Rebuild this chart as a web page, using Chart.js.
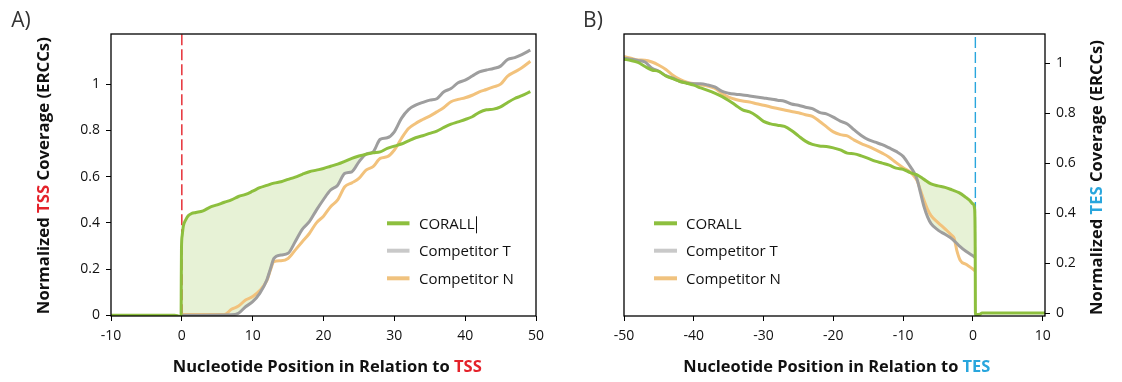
<!DOCTYPE html>
<html>
<head>
<meta charset="utf-8">
<script src="https://cdn.jsdelivr.net/npm/chart.js@4.4.1/dist/chart.umd.min.js"></script>
<style>
  html, body { margin: 0; padding: 0; background: #fff; }
  #wrap { position: relative; width: 1122px; height: 382px; overflow: hidden; }
  .panel { position: absolute; top: 0; width: 561px; height: 382px; }
</style>
</head>
<body>
<div id="wrap">
  <div class="panel" style="left:0"><canvas id="chartA" width="561" height="382"></canvas></div>
  <div class="panel" style="left:561px"><canvas id="chartB" width="561" height="382"></canvas></div>
</div>
<script>
// ---------------- DATA ----------------
const seriesNames = ['CORALL', 'Competitor T', 'Competitor N'];
const coverageTicks = [0, 0.2, 0.4, 0.6, 0.8, 1];
const tssTicksX = [-10, 0, 10, 20, 30, 40, 50];
const tesTicksX = [-50, -40, -30, -20, -10, 0, 10];

// Panel A: TSS
const tssCorallX = [-10,-1,-0.5,-0.15,-0.1,-0.08,-0.05,0.05,0.2,0.55,0.9,1.4,2,3,4,5,6,7,8,9,10,11,12,13,14,15,16,17,18,19,20,21,22,23,24,25,26,27,28,29,30,31,32,33,34,35,36,37,38,39,40,41,42,43,44,45,46,47,48,49.2];
const tssCorallY = [0,0,-0.003,-0.006,0,0.15,0.29,0.345,0.384,0.413,0.431,0.441,0.445,0.452,0.468,0.478,0.489,0.499,0.514,0.523,0.537,0.552,0.562,0.572,0.578,0.588,0.598,0.61,0.621,0.628,0.635,0.645,0.654,0.666,0.679,0.689,0.697,0.703,0.707,0.722,0.732,0.741,0.755,0.768,0.777,0.787,0.797,0.813,0.827,0.837,0.847,0.859,0.878,0.889,0.892,0.902,0.921,0.938,0.95,0.968];

const tssCompTX = [0,7,8,9,10,11,12,12.5,13,14,15,16,17,18,19,20,21,22,23,24,25,26,27,28,29,30,31,32,33,34,35,36,37,38,39,40,41,42,43,44,45,46,47,48,49.2];
const tssCompTY = [0,0.002,0.009,0.037,0.059,0.095,0.153,0.2,0.246,0.261,0.268,0.318,0.372,0.405,0.455,0.501,0.542,0.563,0.614,0.621,0.664,0.697,0.707,0.761,0.768,0.794,0.852,0.89,0.909,0.921,0.931,0.937,0.967,0.981,1.006,1.017,1.035,1.053,1.061,1.068,1.078,1.107,1.115,1.128,1.147];

const tssCompNX = [0,6,7,8,9,10,11,12,12.5,13,14,15,16,17,18,19,20,21,22,23,24,25,26,27,28,29,30,31,32,33,34,35,36,37,38,39,40,41,42,43,44,45,46,47,48,49.2];
const tssCompNY = [0.003,0.003,0.026,0.04,0.066,0.081,0.107,0.15,0.195,0.232,0.236,0.246,0.282,0.318,0.354,0.4,0.429,0.47,0.499,0.556,0.573,0.592,0.628,0.643,0.679,0.686,0.715,0.765,0.808,0.83,0.847,0.862,0.88,0.899,0.924,0.934,0.941,0.952,0.967,0.977,0.988,1.0,1.035,1.053,1.071,1.099];

const tssMarkerX = [0, 0];
const tssMarkerY = [0, 1.22];

// Panel B: TES
const tesCorallX = [-50,-49,-48,-47,-46,-45,-44,-43,-42,-41,-40,-39,-38,-37,-36,-35,-34,-33,-32,-31,-30,-29,-28,-27,-26,-25,-24,-23,-22,-21,-20,-19,-18,-17,-16,-15,-14,-13,-12,-11,-10,-9,-8.5,-8,-7,-6,-5,-4,-3,-2,-1,-0.5,0,0.25,0.33,0.36,1,1.3,10.33];
const tesCorallY = [1.016,1.011,1.003,0.987,0.973,0.967,0.949,0.938,0.927,0.92,0.912,0.901,0.891,0.88,0.867,0.851,0.832,0.813,0.805,0.789,0.767,0.757,0.752,0.747,0.731,0.709,0.688,0.675,0.669,0.667,0.661,0.653,0.64,0.637,0.629,0.619,0.608,0.6,0.592,0.58,0.575,0.562,0.557,0.553,0.535,0.517,0.509,0.503,0.493,0.482,0.463,0.452,0.437,0.415,0.25,-0.006,-0.005,0,0];

const tesCompTX = [-50,-49,-48,-47,-46,-45,-44,-43,-42,-41,-40,-39,-38,-37,-36,-35,-34,-33,-32,-31,-30,-29,-28,-27,-26,-25,-24,-23,-22,-21,-20,-19,-18,-17,-16,-15,-14,-13,-12,-11,-10,-9,-8.5,-8,-7.5,-7,-6.5,-6,-5,-4,-3,-2,-1,0,0.33];
const tesCompTY = [1.02,1.016,1.011,1.005,0.98,0.968,0.95,0.94,0.928,0.921,0.918,0.918,0.913,0.905,0.888,0.88,0.876,0.873,0.869,0.865,0.861,0.857,0.852,0.848,0.837,0.832,0.824,0.818,0.803,0.797,0.784,0.768,0.757,0.733,0.711,0.694,0.684,0.674,0.661,0.647,0.627,0.587,0.566,0.535,0.48,0.425,0.385,0.358,0.332,0.315,0.297,0.27,0.247,0.229,0.222];

const tesCompNX = [-50,-49,-48,-47,-46,-45,-44,-43,-42,-41,-40,-39,-38,-37,-36,-35,-34,-33,-32,-31,-30,-29,-28,-27,-26,-25,-24,-23,-22,-21,-20,-19,-18,-17,-16,-15,-14,-13,-12,-11,-10,-9,-8.5,-8,-7.5,-7,-6.5,-6,-5,-4,-3,-2.7,-2.3,-1.8,-1,0,0.33];
const tesCompNY = [1.027,1.02,1.013,1.012,1.005,0.992,0.975,0.952,0.935,0.924,0.918,0.914,0.909,0.9,0.88,0.864,0.855,0.849,0.845,0.838,0.832,0.825,0.819,0.813,0.807,0.802,0.794,0.787,0.768,0.746,0.725,0.714,0.709,0.692,0.678,0.667,0.654,0.64,0.624,0.602,0.582,0.565,0.55,0.53,0.49,0.45,0.415,0.39,0.362,0.337,0.31,0.3,0.25,0.21,0.195,0.176,0.168];

const tesMarkerX = [0.35, 0.35];
const tesMarkerY = [-0.02, 1.13];

// ---------------- STYLE ----------------
const FONT = '"Open Sans", "DejaVu Sans", sans-serif';
const GREEN = '#8dbf3e', GRAY = '#9e9e9e', ORANGE = '#f2c27c';
const LEGEND_COLORS = ['#8dbf3e', '#c9c9c9', '#f0c27e'];
const RED = '#e4222a', BLUE = '#29a6dd';
const FILL = 'rgba(141,192,63,0.21)';
const TEXT = '#111';

function pts(xs, ys) { return xs.map((x, i) => ({ x: x, y: ys[i] })); }

function series(i, xs, ys, color, extra) {
  return Object.assign({
    label: seriesNames[i], data: pts(xs, ys),
    borderColor: color, backgroundColor: color, borderWidth: 3,
    pointRadius: 0, pointHoverRadius: 0, cubicInterpolationMode: 'monotone',
    fill: false, legendColor: LEGEND_COLORS[i]
  }, extra || {});
}

function marker(xs, ys, color) {
  return { label: '', data: pts(xs, ys), borderColor: color, borderWidth: 1.4,
    borderDash: [11, 4], pointRadius: 0, fill: false, tension: 0 };
}

function drawRich(ctx, segs, x, y, font, width, rot) {
  ctx.save();
  ctx.font = font;
  const ws = segs.map(s => ctx.measureText(s[0]).width);
  const total = ws.reduce((a, b) => a + b, 0);
  ctx.translate(x, y);
  if (rot) ctx.rotate(rot);
  if (width) ctx.scale(width / total, 1);
  ctx.textAlign = 'left';
  ctx.textBaseline = 'alphabetic';
  let cx = -total / 2;
  segs.forEach((s, i) => { ctx.fillStyle = s[1]; ctx.fillText(s[0], cx, 0); cx += ws[i]; });
  ctx.restore();
}

const decorPlugin = {
  id: 'decor',
  afterDatasetsDraw(chart, args, o) {
    const ctx = chart.ctx, a = chart.chartArea;
    ctx.save();
    ctx.strokeStyle = '#000';
    ctx.lineWidth = 1.3;
    ctx.strokeRect(a.left, a.top, a.right - a.left, a.bottom - a.top);
    ctx.restore();
    // legend
    ctx.save();
    ctx.font = '15px ' + FONT;
    ctx.textBaseline = 'middle';
    ctx.textAlign = 'left';
    let k = 0;
    chart.data.datasets.forEach(ds => {
      if (!ds.label) return;
      const y = o.legend.rows[k];
      ctx.strokeStyle = ds.legendColor;
      ctx.lineWidth = 4;
      ctx.beginPath();
      ctx.moveTo(o.legend.x0, y); ctx.lineTo(o.legend.x1, y);
      ctx.stroke();
      ctx.fillStyle = TEXT;
      ctx.fillText(ds.label, o.legend.tx, y + 1);
      if (k === 0 && o.legend.caret) {
        const w = ctx.measureText(ds.label).width;
        ctx.fillRect(Math.round(o.legend.tx + w + 1), y - 7, 1, 17);
      }
      k++;
    });
    ctx.restore();
  },
  afterDraw(chart, args, o) {
    const ctx = chart.ctx;
    (o.titles || []).forEach(t => drawRich(ctx, t.segs, t.x, t.y, t.font, t.width, t.rot));
  }
};

function makeChart(id, cfg) {
  const tickFont = { family: FONT, size: 14 };
  return new Chart(document.getElementById(id), {
    type: 'line',
    data: { datasets: cfg.datasets },
    plugins: [decorPlugin],
    options: {
      responsive: false, animation: false, devicePixelRatio: 1,
      layout: { padding: cfg.padding },
      interaction: { mode: null },
      plugins: {
        legend: { display: false }, tooltip: { enabled: false },
        filler: { drawTime: 'beforeDatasetsDraw' },
        decor: cfg.decor
      },
      scales: {
        x: {
          type: 'linear', min: cfg.xMin, max: cfg.xMax,
          afterBuildTicks: s => { s.ticks = cfg.xTicks.map(v => ({ value: v })); },
          afterFit: s => { s.height = 66; },
          grid: { drawOnChartArea: false, drawTicks: true, tickLength: 5, color: '#000', lineWidth: 1 },
          border: { display: false },
          ticks: { font: tickFont, color: TEXT, padding: 7, autoSkip: false, maxRotation: 0,
                   callback: v => String(v) }
        },
        y: {
          type: 'linear', position: cfg.yPos, min: cfg.yMin, max: cfg.yMax,
          afterBuildTicks: s => { s.ticks = coverageTicks.map(v => ({ value: v })); },
          afterFit: s => { s.width = cfg.yWidth; },
          grid: { drawOnChartArea: false, drawTicks: true, tickLength: 5, color: '#000', lineWidth: 1 },
          border: { display: false },
          ticks: { font: tickFont, color: TEXT, padding: 6, autoSkip: false,
                   callback: v => String(+Number(v).toFixed(1)) }
        }
      }
    }
  });
}

const TITLE_FONT = 'bold 16px ' + FONT;
const LABEL_FONT = '21px ' + FONT;

makeChart('chartA', {
  datasets: [
    series(0, tssCorallX, tssCorallY, GREEN, { fill: { target: 1, above: FILL, below: 'rgba(0,0,0,0)' } }),
    series(1, tssCompTX, tssCompTY, GRAY),
    series(2, tssCompNX, tssCompNY, ORANGE),
    marker(tssMarkerX, tssMarkerY, RED)
  ],
  padding: { left: 0, right: 25, top: 34, bottom: 0 },
  xMin: -10, xMax: 50, xTicks: tssTicksX,
  yMin: -0.003, yMax: 1.217, yPos: 'left', yWidth: 111,
  decor: {
    legend: { x0: 387, x1: 409.5, tx: 419, rows: [223.3, 250.7, 278.3], caret: true },
    titles: [
      { segs: [['Nucleotide Position in Relation to ', TEXT], ['TSS', RED]], x: 327.3, y: 371.5, font: TITLE_FONT, width: 309 },
      { segs: [['Normalized ', TEXT], ['TSS', RED], [' Coverage (ERCCs)', TEXT]], x: 48.5, y: 175.7, font: TITLE_FONT, width: 277, rot: -Math.PI / 2 },
      { segs: [['A)', '#333']], x: 21, y: 27, font: LABEL_FONT }
    ]
  }
});

makeChart('chartB', {
  datasets: [
    series(0, tesCorallX, tesCorallY, GREEN, { fill: { target: 1, above: FILL, below: 'rgba(0,0,0,0)' } }),
    series(1, tesCompTX, tesCompTY, GRAY),
    series(2, tesCompNX, tesCompNY, ORANGE),
    marker(tesMarkerX, tesMarkerY, BLUE)
  ],
  padding: { left: 63, right: 0, top: 34, bottom: 0 },
  xMin: -50, xMax: 10.33, xTicks: tesTicksX,
  yMin: -0.012, yMax: 1.117, yPos: 'right', yWidth: 77,
  decor: {
    legend: { x0: 93, x1: 116, tx: 125, rows: [223.3, 250.7, 278.3], caret: false },
    titles: [
      { segs: [['Nucleotide Position in Relation to ', TEXT], ['TES', BLUE]], x: 275.8, y: 371.5, font: TITLE_FONT, width: 307 },
      { segs: [['Normalized ', TEXT], ['TES', BLUE], [' Coverage (ERCCs)', TEXT]], x: 540.8, y: 177.5, font: TITLE_FONT, width: 275, rot: -Math.PI / 2 },
      { segs: [['B)', '#333']], x: 32, y: 27, font: LABEL_FONT }
    ]
  }
});
</script>
</body>
</html>
